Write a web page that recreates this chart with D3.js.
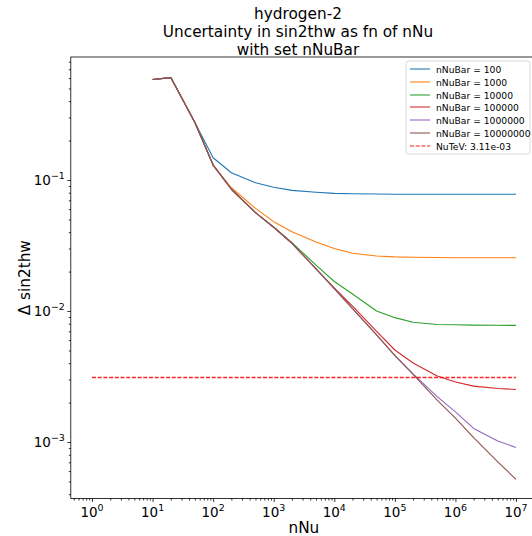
<!DOCTYPE html>
<html>
<head>
<meta charset="utf-8">
<script src="https://cdn.jsdelivr.net/npm/d3@7"></script>
<style>
  html, body { margin: 0; padding: 0; background: #fff; }
  svg { display: block; font-family: "DejaVu Sans", sans-serif; }
</style>
</head>
<body>
<svg id="chart" width="532" height="536"></svg>
<script>
// ---- data ----
const nNu = [10, 20, 50, 100, 200, 500, 1e3, 2e3, 5e3, 1e4, 2e4, 5e4, 1e5, 2e5, 5e5, 1e6, 2e6, 5e6, 1e7];
const seriesLabels = ["nNuBar = 100", "nNuBar = 1000", "nNuBar = 10000", "nNuBar = 100000", "nNuBar = 1000000", "nNuBar = 10000000"];
const seriesColors = ["#1f77b4", "#ff7f0e", "#2ca02c", "#d62728", "#9467bd", "#8c564b"];
const nNuBar100 = [0.585, 0.605, 0.275, 0.148, 0.1137, 0.0953, 0.088, 0.0834, 0.0806, 0.0791, 0.0785, 0.0781, 0.0779, 0.0778, 0.0778, 0.0778, 0.0778, 0.0778, 0.0778];
const nNuBar1000 = [0.585, 0.605, 0.275, 0.130, 0.0873, 0.0608, 0.0481, 0.0403, 0.0337, 0.0300, 0.0276, 0.0263, 0.0259, 0.0257, 0.0256, 0.0255, 0.0255, 0.0255, 0.0255];
const nNuBar10000 = [0.585, 0.605, 0.275, 0.130, 0.085, 0.0563, 0.0436, 0.0333, 0.0224, 0.0168, 0.0135, 0.0100, 0.0089, 0.0082, 0.0079, 0.00785, 0.0078, 0.00778, 0.00777];
const nNuBar100000 = [0.585, 0.605, 0.275, 0.130, 0.085, 0.0563, 0.0436, 0.0329, 0.0210, 0.0150, 0.0109, 0.0070, 0.00504, 0.00401, 0.00319, 0.00287, 0.00267, 0.00256, 0.00252];
const nNuBar1000000 = [0.585, 0.605, 0.275, 0.130, 0.085, 0.0563, 0.0436, 0.0329, 0.0210, 0.0148, 0.01044, 0.00658, 0.00458, 0.00331, 0.00222, 0.0017, 0.00127, 0.00102, 0.00091];
const nNuBar10000000 = [0.585, 0.605, 0.275, 0.130, 0.085, 0.0563, 0.0436, 0.0329, 0.0210, 0.0148, 0.01044, 0.00658, 0.00456, 0.00328, 0.00209, 0.00152, 0.00108, 0.000706, 0.000519];
const nuTeV = 3.11e-3;
const nuTeVRange = [1, 1e7];
const nuTeVLabel = "NuTeV: 3.11e-03";
const xTickExps = [0, 1, 2, 3, 4, 5, 6, 7];
const yTickExps = [-1, -2, -3];
const titleLines = ["hydrogen-2", "Uncertainty in sin2thw as fn of nNu", "with set nNuBar"];

const seriesValues = [nNuBar100, nNuBar1000, nNuBar10000, nNuBar100000, nNuBar1000000, nNuBar10000000];

// ---- layout ----
const svg = d3.select("#chart");
const L = 70.8, R = 537, T = 57, B = 498.5;
const x = d3.scaleLog().domain([Math.pow(10, -0.35), Math.pow(10, 7.347)]).range([L, R]);
const y = d3.scaleLog().domain([Math.pow(10, -3.431), Math.pow(10, -0.0611)]).range([B, T]);

svg.append("clipPath").attr("id", "clip")
  .append("rect").attr("x", L).attr("y", T).attr("width", R - L).attr("height", B - T);

// lines
const line = d3.line().x((d, i) => x(nNu[i])).y(d => y(d));
const plot = svg.append("g").attr("clip-path", "url(#clip)");
seriesValues.forEach((vals, k) => {
  plot.append("path").datum(vals)
    .attr("d", line)
    .attr("fill", "none")
    .attr("stroke", seriesColors[k])
    .attr("stroke-width", 1.1)
    .attr("stroke-linejoin", "round");
});
const yDash = Math.round(y(nuTeV)) + 0.5;
plot.append("line")
  .attr("x1", x(nuTeVRange[0])).attr("x2", x(nuTeVRange[1]))
  .attr("y1", yDash).attr("y2", yDash)
  .attr("stroke", "red").attr("stroke-width", 1.4)
  .attr("stroke-opacity", 0.85)
  .attr("stroke-dasharray", "4,1.7");

// axes
const minorX = [];
for (let e = -1; e <= 7; e++) for (let m = 2; m <= 9; m++) { const v = m * Math.pow(10, e); if (v >= x.domain()[0] && v <= x.domain()[1]) minorX.push(v); }
const minorY = [];
for (let e = -4; e <= 0; e++) for (let m = 2; m <= 9; m++) { const v = m * Math.pow(10, e); if (v >= y.domain()[0] && v <= y.domain()[1]) minorY.push(v); }

const xAxisMinor = d3.axisBottom(x).tickValues(minorX).tickSize(2).tickFormat("");
const xAxisMajor = d3.axisBottom(x).tickValues(xTickExps.map(e => Math.pow(10, e))).tickSize(3.5).tickFormat("");
const yAxisMinor = d3.axisLeft(y).tickValues(minorY).tickSize(2).tickFormat("");
const yAxisMajor = d3.axisLeft(y).tickValues(yTickExps.map(e => Math.pow(10, e))).tickSize(3.5).tickFormat("");

function styleAxis(g) {
  g.select(".domain").remove();
  g.selectAll(".tick line").attr("stroke", "#000").attr("stroke-width", 0.8);
}
svg.append("g").attr("transform", `translate(0,${B})`).call(xAxisMinor).call(styleAxis);
svg.append("g").attr("transform", `translate(0,${B})`).call(xAxisMajor).call(styleAxis);
svg.append("g").attr("transform", `translate(${L},0)`).call(yAxisMinor).call(styleAxis);
svg.append("g").attr("transform", `translate(${L},0)`).call(yAxisMajor).call(styleAxis);

// tick labels
const tickFs = 13.5;
xTickExps.forEach(e => {
  const t = svg.append("text")
    .attr("x", x(Math.pow(10, e))).attr("y", B + 18)
    .attr("text-anchor", "middle")
    .attr("font-size", tickFs).attr("fill", "#000");
  t.append("tspan").text("10");
  t.append("tspan").attr("dy", -6).attr("font-size", tickFs * 0.7).text(String(e));
});
yTickExps.forEach(e => {
  const t = svg.append("text")
    .attr("x", L - 6).attr("y", y(Math.pow(10, e)) + 5)
    .attr("text-anchor", "end")
    .attr("font-size", tickFs).attr("fill", "#000");
  t.append("tspan").text("10");
  t.append("tspan").attr("dy", -6).attr("font-size", tickFs * 0.7).text("\u2212" + String(-e));
});

// spines
svg.append("rect").attr("x", L).attr("y", T).attr("width", R - L).attr("height", B - T)
  .attr("fill", "none").attr("stroke", "#000").attr("stroke-width", 0.8);

// axis labels
svg.append("text").attr("x", (L + R) / 2).attr("y", 533)
  .attr("text-anchor", "middle").attr("font-size", 15.3).text("nNu");
svg.append("text").attr("transform", `translate(30,${(T + B) / 2}) rotate(-90)`)
  .attr("text-anchor", "middle").attr("font-size", 15.3).text("\u0394 sin2thw");

// title
titleLines.forEach((s, i) => {
  svg.append("text").attr("x", 298).attr("y", 19 + i * 18)
    .attr("text-anchor", "middle").attr("font-size", 15.3).text(s);
});

// legend
const lg = svg.append("g");
lg.append("rect").attr("x", 406).attr("y", 61).attr("width", 124).attr("height", 93)
  .attr("rx", 2.5).attr("fill", "#fff").attr("fill-opacity", 0.8)
  .attr("stroke", "#d0d0d0").attr("stroke-width", 0.8);
const legItems = seriesLabels.map((s, k) => ({ label: s, color: seriesColors[k], dash: null }))
  .concat([{ label: nuTeVLabel, color: "red", dash: "4,1.7" }]);
legItems.forEach((it, i) => {
  const cy = Math.round(69 + i * 12.8);
  lg.append("line").attr("x1", 410).attr("x2", 430).attr("y1", cy).attr("y2", cy)
    .attr("stroke", it.color).attr("stroke-width", 1.2)
    .attr("stroke-opacity", 0.9)
    .attr("stroke-dasharray", it.dash);
  lg.append("text").attr("x", 436).attr("y", cy + 3.5)
    .attr("font-size", 9.2).attr("fill", "#000").text(it.label);
});
</script>
</body>
</html>
